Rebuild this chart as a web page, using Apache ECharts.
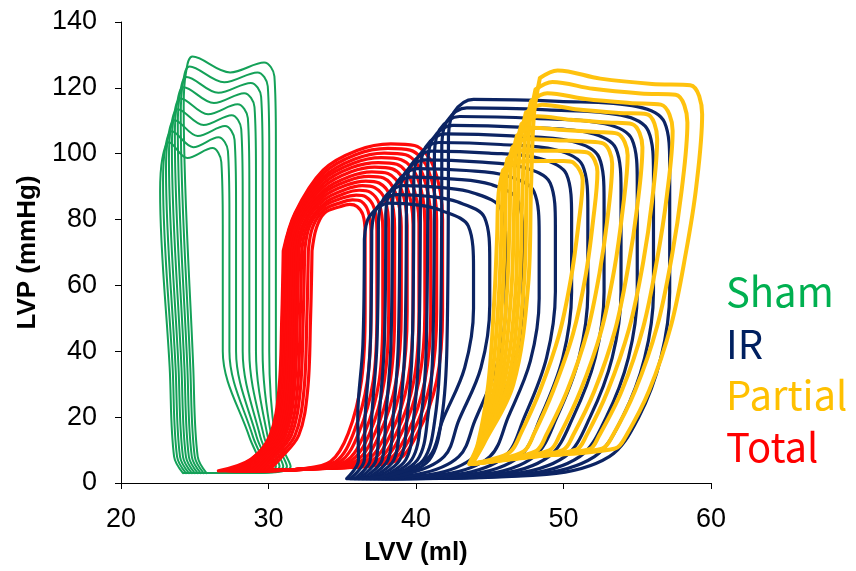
<!DOCTYPE html>
<html>
<head>
<meta charset="utf-8">
<script src="https://cdn.jsdelivr.net/npm/echarts@6/dist/echarts.min.js"></script>
<style>
  html, body { margin: 0; padding: 0; background: #ffffff; }
  #chart { width: 856px; height: 571px; }
</style>
</head>
<body>
<div id="chart"></div>
<script>
// Axis ranges and tick steps
const volumeTicks = [20, 30, 40, 50, 60];            // LVV (ml)
const pressureTicks = [0, 20, 40, 60, 80, 100, 120, 140]; // LVP (mmHg)

// Group names in legend order
const groupNames = ['Sham', 'IR', 'Partial', 'Total'];

// Pressure-volume loops, each loop is a closed list of [volume ml, pressure mmHg]
const shamLoops = [
  [[25.8,3],[25.2,8],[24.9,35],[24.25,114.5],[24.4,124.5],[24.85,129.5],[27.4,124.7],[29.7,127.7],[30.4,123.5],[30.5,104.5],[30.5,40],[30.7,14],[31.5,5],[28.7,3],[25.8,3]],
  [[25.6,3],[25.0,8],[24.7,35],[24.05,111.5],[24.2,121.5],[24.65,126.5],[27.0,121.7],[29.25,124.7],[29.95,120.5],[30.05,101.5],[30.05,40],[30.45,14],[31.25,5],[28.5,3],[25.6,3]],
  [[25.4,3],[24.8,8],[24.5,35],[23.85,108.3],[24.0,118.3],[24.45,123.3],[26.6,118.5],[28.8,121.5],[29.5,117.3],[29.6,98.3],[29.6,40],[30.2,14],[31.0,5],[28.3,3],[25.4,3]],
  [[25.2,3],[24.6,8],[24.3,35],[23.65,105.2],[23.8,115.2],[24.25,120.2],[26.3,115.4],[28.35,118.4],[29.05,114.2],[29.15,95.2],[29.15,40],[29.95,14],[30.75,5],[28.1,3],[25.2,3]],
  [[25.0,3],[24.4,8],[24.1,35],[23.45,101.8],[23.6,111.8],[24.05,116.8],[25.9,112],[27.9,115],[28.6,110.8],[28.7,91.8],[28.7,40],[29.7,14],[30.5,5],[27.9,3],[25.0,3]],
  [[24.8,3],[24.2,8],[23.9,35],[23.25,98.5],[23.4,108.5],[23.85,113.5],[25.6,108.7],[27.5,111.7],[28.15,107.5],[28.25,88.5],[28.25,40],[29.45,14],[30.25,5],[27.7,3],[24.8,3]],
  [[24.6,3],[24.0,8],[23.7,35],[23.05,95.2],[23.2,105.2],[23.65,110.2],[25.2,105.4],[27.05,108.4],[27.7,104.2],[27.8,85.2],[27.8,40],[29.2,14],[30.0,5],[27.5,3],[24.6,3]],
  [[24.4,3],[23.8,8],[23.5,35],[22.85,91.8],[23.0,101.8],[23.45,106.8],[24.9,102],[26.6,105],[27.25,100.8],[27.35,81.8],[27.35,40],[28.95,14],[29.75,5],[27.3,3],[24.4,3]],
  [[24.2,3],[23.6,8],[23.3,35],[22.65,88.5],[22.8,98.5],[23.25,103.5],[24.5,98.7],[26.2,101.7],[26.8,97.5],[26.9,78.5],[26.9,40],[28.7,14],[29.5,5],[27.1,3],[24.2,3]]
];

const totalLoops = [
  [[31.0,70.5],[31.8,82],[33.7,95],[36.0,101],[38.3,103],[39.9,102.5],[41.2,96],[41.8,80],[41.8,52],[41.4,31],[40.1,15],[38.5,6.5],[33.0,4.3],[26.6,3.7],[28.8,7.2],[30.1,14.5],[30.7,28],[30.9,50],[31.0,70.5]],
  [[31.05,70.5],[31.8,81.65],[33.72,94],[35.9,99.7],[38.1,101.6],[39.6,101.1],[40.85,94.9],[41.4,79.7],[41.4,52],[41.0,31],[39.75,15],[38.15,6.5],[32.95,4.3],[27.25,3.7],[28.85,7.2],[30.15,14.5],[30.75,28],[30.95,50],[31.05,70.5]],
  [[31.15,70.5],[31.85,81.3],[33.74,93],[35.85,98.4],[37.85,100.2],[39.3,99.7],[40.45,93.8],[41.0,79.4],[41.0,52],[40.6,31],[39.4,15],[37.85,6.5],[32.9,4.3],[27.45,3.7],[28.95,7.2],[30.25,14.5],[30.85,28],[31.05,50],[31.15,70.5]],
  [[31.25,70.5],[31.95,81],[33.7,92],[35.75,97.1],[37.65,98.8],[39.0,98.2],[40.1,92.7],[40.6,79.1],[40.6,52],[40.2,31],[39.0,15],[37.5,6.5],[32.8,4.3],[27.7,3.7],[29.05,7.2],[30.35,14.5],[30.95,28],[31.15,50],[31.25,70.5]],
  [[31.35,70.5],[32.0,80.6],[33.73,91],[35.65,95.8],[37.45,97.3],[38.7,96.8],[39.7,91.5],[40.2,78.8],[40.2,52],[39.85,31],[38.65,15],[37.2,6.5],[32.75,4.3],[27.9,3.7],[29.15,7.2],[30.45,14.5],[31.05,28],[31.25,50],[31.35,70.5]],
  [[31.45,70.5],[32.05,80.3],[33.75,90],[35.6,94.5],[37.2,95.9],[38.4,95.4],[39.35,90.4],[39.8,78.5],[39.8,52],[39.45,31],[38.3,15],[36.85,6.5],[32.7,4.3],[28.15,3.7],[29.25,7.2],[30.55,14.5],[31.15,28],[31.35,50],[31.45,70.5]],
  [[31.6,70.5],[32.15,79.9],[33.77,89],[35.5,93.1],[37.0,94.5],[38.1,94.0],[39.0,89.3],[39.4,78.2],[39.4,52],[39.05,31],[37.95,15],[36.5,6.5],[32.65,4.3],[28.4,3.7],[29.4,7.2],[30.7,14.5],[31.3,28],[31.5,50],[31.6,70.5]],
  [[31.75,70.5],[32.25,79.6],[33.74,88],[35.4,91.8],[36.8,93.1],[37.8,92.6],[38.6,88.2],[39.0,77.8],[39.0,52],[38.65,31],[37.55,15],[36.2,6.5],[32.55,4.3],[28.6,3.7],[29.55,7.2],[30.85,14.5],[31.45,28],[31.65,50],[31.75,70.5]],
  [[31.9,70.5],[32.4,79.2],[33.75,87],[35.3,90.5],[36.6,91.7],[37.5,91.1],[38.25,87.1],[38.55,77.5],[38.55,52],[38.25,31],[37.2,15],[35.85,6.5],[32.5,4.3],[28.85,3.7],[29.7,7.2],[31.0,14.5],[31.6,28],[31.8,50],[31.9,70.5]],
  [[32.05,70.5],[32.5,78.9],[33.77,86],[35.25,89.2],[36.35,90.3],[37.2,89.7],[37.9,86],[38.15,77.2],[38.15,52],[37.85,31],[36.85,15],[35.5,6.5],[32.45,4.3],[29.1,3.7],[29.85,7.2],[31.15,14.5],[31.75,28],[31.95,50],[32.05,70.5]],
  [[32.25,70.5],[32.65,78.5],[33.8,85],[35.15,87.9],[36.15,88.9],[36.9,88.3],[37.5,84.9],[37.75,76.9],[37.75,52],[37.5,31],[36.5,15],[35.2,6.5],[32.4,4.3],[29.3,3.7],[30.05,7.2],[31.35,14.5],[31.95,28],[32.15,50],[32.25,70.5]],
  [[32.45,70.5],[32.8,78.2],[33.76,84],[35.05,86.6],[35.95,87.4],[36.6,86.9],[37.15,83.7],[37.35,76.6],[37.35,52],[37.1,31],[36.1,15],[34.85,6.5],[32.3,4.3],[29.55,3.7],[30.25,7.2],[31.55,14.5],[32.15,28],[32.35,50],[32.45,70.5]],
  [[32.7,70.5],[33.0,77.8],[33.78,83],[35.0,85.3],[35.7,86.0],[36.3,85.5],[36.75,82.6],[36.95,76.3],[36.95,52],[36.7,31],[35.75,15],[34.55,6.5],[32.25,4.3],[29.75,3.7],[30.5,7.2],[31.8,14.5],[32.4,28],[32.6,50],[32.7,70.5]],
  [[32.95,70.5],[33.25,77.5],[33.8,82],[34.9,84],[35.5,84.6],[36.0,84],[36.4,81.5],[36.55,76],[36.55,52],[36.3,31],[35.4,15],[34.2,6.5],[32.2,4.3],[30.0,3.7],[30.75,7.2],[32.05,14.5],[32.65,28],[32.85,50],[32.95,70.5]]
];

const irLoops = [
  [[42.2,105.5],[42.55,112.5],[43.9,116.5],[49.7,115.9],[55.0,114.3],[56.85,109.5],[57.2,96.5],[57.2,58],[56.6,38],[55.1,20],[53.1,8],[48.85,2.6],[38.5,1.3],[40.9,7],[41.75,20],[42.1,42],[42.2,105.5]],
  [[41.75,102.9],[42.1,109.9],[43.45,113.9],[48.9,113.3],[53.9,111.7],[55.75,106.9],[56.1,93.9],[56.1,58],[55.5,38],[54.0,20],[52.1,8],[48.0,2.6],[38.25,1.3],[40.5,7],[41.3,20],[41.65,42],[41.75,102.9]],
  [[41.25,100.3],[41.6,107.3],[42.95,111.3],[48.1,110.7],[52.8,109.1],[54.65,104.3],[55.0,91.3],[55.0,58],[54.4,38],[52.9,20],[51.1,8],[47.15,2.6],[37.95,1.3],[40.1,7],[40.8,20],[41.15,42],[41.25,100.3]],
  [[40.8,97.6],[41.15,104.6],[42.5,108.6],[47.35,108.0],[51.7,106.4],[53.55,101.6],[53.9,88.6],[53.9,58],[53.3,38],[51.8,20],[50.1,8],[46.25,2.6],[37.7,1.3],[39.7,7],[40.35,20],[40.7,42],[40.8,97.6]],
  [[40.3,95],[40.65,102],[42.0,106],[46.5,105.4],[50.55,103.8],[52.4,99],[52.75,86],[52.75,58],[52.15,38],[50.65,20],[49.0,8],[45.35,2.6],[37.45,1.3],[39.3,7],[39.85,20],[40.2,42],[40.3,95]],
  [[39.85,92.4],[40.2,99.4],[41.55,103.4],[45.75,102.8],[49.45,101.2],[51.3,96.4],[51.65,83.4],[51.65,58],[51.05,38],[49.55,20],[48.0,8],[44.5,2.6],[37.15,1.3],[38.9,7],[39.4,20],[39.75,42],[39.85,92.4]],
  [[39.35,89.8],[39.7,96.8],[41.05,100.8],[44.95,100.2],[48.35,98.6],[50.2,93.8],[50.55,80.8],[50.55,58],[49.95,38],[48.45,20],[47.0,8],[43.6,2.6],[36.9,1.3],[38.5,7],[38.9,20],[39.25,42],[39.35,89.8]],
  [[38.9,87.1],[39.25,94.1],[40.6,98.1],[44.2,97.5],[47.25,95.9],[49.1,91.1],[49.45,78.1],[49.45,58],[48.85,38],[47.35,20],[46.0,8],[42.75,2.6],[36.65,1.3],[38.1,7],[38.45,20],[38.8,42],[38.9,87.1]],
  [[38.4,84.5],[38.75,91.5],[40.1,95.5],[43.4,94.9],[46.15,93.3],[48.0,88.5],[48.35,75.5],[48.35,56],[47.75,37],[46.25,20],[45.0,8],[41.9,2.6],[36.35,1.3],[37.7,7],[37.95,20],[38.3,42],[38.4,84.5]],
  [[37.95,81.9],[38.3,88.9],[39.65,92.9],[42.6,92.3],[45.05,90.7],[46.9,85.9],[47.25,72.9],[47.25,55],[46.65,36],[45.15,19],[43.95,8],[41.05,2.6],[36.1,1.3],[37.3,7],[37.5,20],[37.85,42],[37.95,81.9]],
  [[37.45,79.3],[37.8,86.3],[39.15,90.3],[41.8,89.7],[43.9,88.1],[45.75,83.3],[46.1,70.3],[46.1,55],[45.5,36],[44.0,19],[42.9,8],[40.1,2.6],[35.85,1.3],[36.9,7],[37.0,20],[37.35,42],[37.45,79.3]],
  [[37.0,76.6],[37.35,83.6],[38.7,87.6],[41.0,87.0],[42.8,85.4],[44.65,80.6],[45.0,67.6],[45.0,54],[44.4,35],[42.9,19],[41.9,8],[39.25,2.6],[35.55,1.3],[36.5,7],[36.55,20],[36.9,42],[37.0,76.6]],
  [[36.5,74],[36.85,81],[38.2,85],[40.2,84.4],[41.7,82.8],[43.55,78],[43.9,65],[43.9,53],[43.3,35],[41.8,19],[40.9,8],[38.4,2.6],[35.3,1.3],[36.1,7],[36.05,20],[36.4,42],[36.5,74]]
];

const partialLoops = [
  [[48.4,123],[49.6,125.3],[52.5,122.8],[56,121.2],[58.6,120.8],[59.4,112],[59.0,90],[58.3,70],[57.3,48],[55.8,28],[54.2,14],[53.5,10.5],[48,8],[43.8,5.8],[44.6,12],[46.6,30],[47.6,60],[47.8,90],[48.0,112],[48.4,123]],
  [[48.1,119.5],[49.25,121.8],[52.0,119.7],[55.25,118.3],[57.6,117.9],[58.4,109.5],[58.0,88.5],[57.35,69],[56.35,47.6],[54.85,28],[53.3,14.1],[52.6,10.4],[47.6,7.9],[43.8,5.8],[44.55,12],[46.4,30],[47.3,59.4],[47.5,88.1],[47.7,109],[48.1,119.5]],
  [[47.8,116],[48.9,118.4],[51.5,116.6],[54.5,115.4],[56.6,114.9],[57.4,107],[57.0,87],[56.35,68],[55.4,47.25],[53.95,28],[52.4,14.25],[51.75,10.25],[47.25,7.75],[43.75,5.8],[44.5,12],[46.2,30],[47.0,58.75],[47.2,86.25],[47.4,106],[47.8,116]],
  [[47.45,112.5],[48.55,114.9],[51.0,113.4],[53.75,112.4],[55.65,112.0],[56.35,104.5],[56.0,85.5],[55.4,67],[54.45,46.9],[53.0,28],[51.55,14.4],[50.85,10.1],[46.9,7.6],[43.75,5.8],[44.45,12],[45.95,30],[46.75,58.1],[46.9,84.4],[47.05,103],[47.45,112.5]],
  [[47.15,109],[48.2,111.4],[50.5,110.3],[53.0,109.5],[54.65,109.0],[55.35,102],[55.0,84],[54.4,66],[53.5,46.5],[52.1,28],[50.65,14.5],[49.95,10],[46.5,7.5],[43.7,5.8],[44.4,12],[45.75,30],[46.45,57.5],[46.65,82.5],[46.75,100],[47.15,109]],
  [[46.85,105.5],[47.85,107.9],[50.0,107.2],[52.25,106.6],[53.65,106.1],[54.35,99.5],[54.0,82.5],[53.45,65],[52.55,46.1],[51.15,28],[49.75,14.6],[49.05,9.9],[46.1,7.4],[43.7,5.8],[44.35,12],[45.55,30],[46.15,56.9],[46.35,80.6],[46.45,97],[46.85,105.5]],
  [[46.55,102],[47.5,104.5],[49.5,104.1],[51.5,103.7],[52.7,103.1],[53.3,97],[53.0,81],[52.45,64],[51.6,45.75],[50.25,28],[48.85,14.75],[48.15,9.75],[45.75,7.25],[43.65,5.8],[44.3,12],[45.35,30],[45.85,56.25],[46.05,78.75],[46.15,94],[46.55,102]],
  [[46.2,98.5],[47.15,101.0],[49.0,100.9],[50.75,100.7],[51.7,100.2],[52.3,94.5],[52.0,79.5],[51.5,63],[50.65,45.4],[49.3,28],[48.0,14.9],[47.3,9.6],[45.4,7.1],[43.65,5.8],[44.25,12],[45.1,30],[45.6,55.6],[45.8,76.9],[45.9,91],[46.2,98.5]],
  [[45.9,95],[46.8,97.5],[48.5,97.8],[50.0,97.8],[50.7,97.2],[51.3,92],[51.0,78],[50.5,62],[49.7,45],[48.4,28],[47.1,15],[46.4,9.5],[45.0,7],[43.6,5.8],[44.2,12],[44.9,30],[45.3,55],[45.5,75],[45.6,88],[45.9,95]]
];

// Look of each group: line colour, line width, legend text colour
const groupStyle = {
  Sham:    { line: '#14a158', width: 2,   text: '#00b050' },
  IR:      { line: '#0c2463', width: 3.2, text: '#002060' },
  Partial: { line: '#ffc20e', width: 4,   text: '#ffc000' },
  Total:   { line: '#ff0a0a', width: 3.2, text: '#ff0000' }
};

const loopsByGroup = { Sham: shamLoops, IR: irLoops, Partial: partialLoops, Total: totalLoops };

// Drawing order, back to front
const drawOrder = ['Sham', 'Total', 'IR', 'Partial'];

const series = [];
drawOrder.forEach(function (group, gi) {
  const st = groupStyle[group];
  loopsByGroup[group].forEach(function (loop) {
    series.push({
      type: 'line',
      name: group,
      data: loop,
      smooth: 0.35,
      symbol: 'none',
      silent: true,
      animation: false,
      z: 2 + gi,
      lineStyle: { color: st.line, width: st.width, cap: 'round', join: 'round' }
    });
  });
});

// Legend texts at the right of the plot
const legendTops = [272, 323.5, 375, 426.5];
const legendText = groupNames.map(function (g, i) {
  return {
    type: 'text',
    left: 726,
    top: legendTops[i],
    style: {
      text: g,
      fill: groupStyle[g].text,
      font: '40px "Noto Sans CJK JP"'
    }
  };
});

const axisFont = 'Liberation Sans';

const chart = echarts.init(document.getElementById('chart'), null, { renderer: 'canvas' });
chart.setOption({
  backgroundColor: '#ffffff',
  animation: false,
  grid: { left: 121, top: 22, width: 590, height: 461, containLabel: false },
  xAxis: {
    type: 'value',
    min: volumeTicks[0],
    max: volumeTicks[volumeTicks.length - 1],
    interval: volumeTicks[1] - volumeTicks[0],
    name: 'LVV (ml)',
    nameLocation: 'middle',
    nameGap: 57,
    nameTextStyle: { color: '#000', fontSize: 26, fontWeight: 'bold', fontFamily: axisFont },
    axisLine: { show: true, onZero: false, lineStyle: { color: '#000', width: 1 } },
    axisTick: { show: true, inside: false, length: 6, lineStyle: { color: '#000', width: 1 } },
    axisLabel: { color: '#000', fontSize: 27, fontFamily: axisFont, margin: 23 },
    splitLine: { show: false }
  },
  yAxis: {
    type: 'value',
    min: pressureTicks[0],
    max: pressureTicks[pressureTicks.length - 1],
    interval: pressureTicks[1] - pressureTicks[0],
    name: 'LVP (mmHg)',
    nameLocation: 'middle',
    nameGap: 78,
    nameTextStyle: { color: '#000', fontSize: 26, fontWeight: 'bold', fontFamily: axisFont },
    axisLine: { show: true, onZero: false, lineStyle: { color: '#000', width: 1 } },
    axisTick: { show: true, inside: false, length: 6, lineStyle: { color: '#000', width: 1 } },
    axisLabel: { color: '#000', fontSize: 27, fontFamily: axisFont, margin: 24 },
    splitLine: { show: false }
  },
  graphic: legendText,
  series: series
});
</script>
</body>
</html>
